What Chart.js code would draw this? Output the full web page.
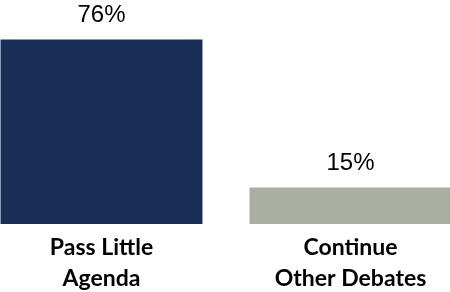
<!DOCTYPE html>
<html>
<head>
  <meta charset="UTF-8">
  <title>Pass Little Agenda</title>
  <script src="https://cdn.jsdelivr.net/npm/chart.js"></script>
  <style>
    body { margin: 0; overflow: hidden; background: #fff; }
    #wrap { position: relative; width: 498px; height: 292px; margin-left: -23px; }
  </style>
</head>
<body>
  <div id="wrap"><canvas id="chart"></canvas></div>
  <script>
    const categories = [['Pass Little', 'Agenda'], ['Continue', 'Other Debates']];
    const values = [76, 15];
    const barColors = ['#192e56', '#a9ada2'];

    // draw the percentage above each bar
    const valueLabels = {
      id: 'valueLabels',
      afterDatasetsDraw(chart) {
        const ctx = chart.ctx;
        const meta = chart.getDatasetMeta(0);
        ctx.save();
        ctx.font = '24px "Liberation Sans", Arial, sans-serif';
        ctx.fillStyle = '#000';
        ctx.textAlign = 'center';
        ctx.textBaseline = 'alphabetic';
        meta.data.forEach((bar, i) => {
          ctx.fillText(values[i] + '%', bar.x, bar.y - 18);
        });
        ctx.restore();
      }
    };

    new Chart(document.getElementById('chart').getContext('2d'), {
      type: 'bar',
      data: {
        labels: categories,
        datasets: [{ data: values, backgroundColor: barColors, categoryPercentage: 1, barPercentage: 0.811 }]
      },
      options: {
        responsive: true,
        maintainAspectRatio: false,
        animation: false,
        layout: { padding: { top: 0, bottom: -10, left: 0, right: 0 } },
        plugins: { legend: { display: false }, tooltip: { enabled: false } },
        scales: {
          x: {
            grid: { display: false, drawTicks: false },
            border: { display: false },
            ticks: {
              padding: 8,
              color: '#000',
              font: { family: 'Lato', weight: 'bold', size: 23, lineHeight: 1.35 }
            }
          },
          y: { display: false, min: 0, max: 92.3 }
        }
      },
      plugins: [valueLabels]
    });
  </script>
</body>
</html>
